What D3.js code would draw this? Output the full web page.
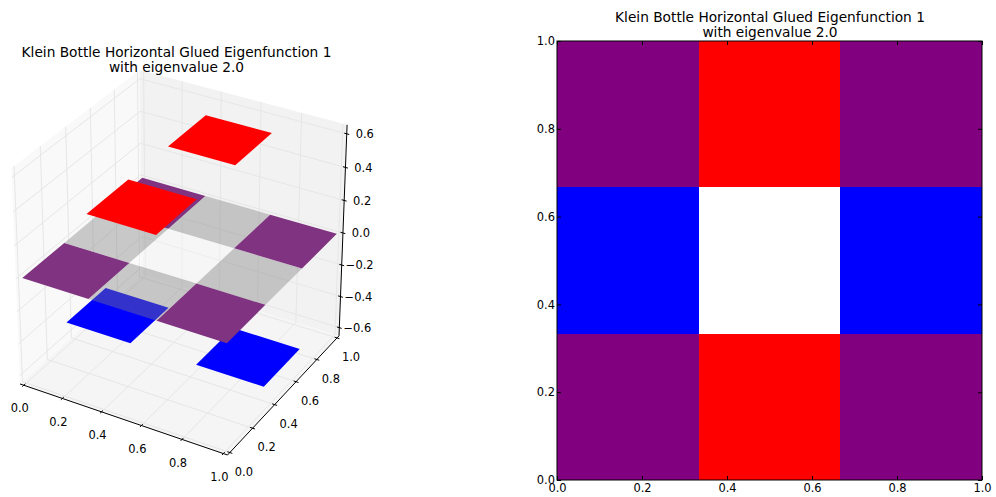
<!DOCTYPE html>
<html><head><meta charset="utf-8">
<script src="https://cdn.jsdelivr.net/npm/d3@7"></script>
<style>html,body{margin:0;padding:0;background:#fff}svg{display:block}
text{font-family:"DejaVu Sans";fill:#000}</style></head><body>
<svg id="c" width="996" height="497"></svg>
<script>
const titleLines = ["Klein Bottle Horizontal Glued Eigenfunction 1", "with eigenvalue 2.0"];
const cellEdges = [0, 1/3, 2/3, 1];
const xTicks = [0, 0.2, 0.4, 0.6, 0.8, 1.0];
const yTicks = [0, 0.2, 0.4, 0.6, 0.8, 1.0];
const zTicks = [-0.6, -0.4, -0.2, 0, 0.2, 0.4, 0.6];
// rows are y cells (bottom to top), columns are x cells
const surfaceZ = [[0, 0.5, 0], [-0.5, 0, -0.5], [0, 0.5, 0]];
const heatColors = [["#800080", "#ff0000", "#800080"], ["#0000ff", "#ffffff", "#0000ff"], ["#800080", "#ff0000", "#800080"]];
const zeroLayerColors = [["#803380", "rgba(128,128,128,0.4)", "#803380"], ["rgba(128,128,128,0.4)", "rgba(255,255,255,0.3)", "rgba(128,128,128,0.4)"], ["#803380", "rgba(128,128,128,0.4)", "#803380"]];
const fmt = d3.format(".1f");
const lab = v => fmt(v).replace("-", "\u2212");
const svg = d3.select("#c");

// ---------- 3D panel (matplotlib mplot3d projection, elev 30, azim -60, dist 10)
const zLim = [-0.64, 0.64], pad = 0.02, zPad = 0.013;
const box = {x0:-pad, x1:1+pad, y0:-pad, y1:1+pad, z0:zLim[0]-zPad, z1:zLim[1]+zPad};
const el = 30*Math.PI/180, az = -60*Math.PI/180, dist = 10;
const nv = [Math.cos(el)*Math.cos(az), Math.cos(el)*Math.sin(az), Math.sin(el)];
const cross=(a,b)=>[a[1]*b[2]-a[2]*b[1],a[2]*b[0]-a[0]*b[2],a[0]*b[1]-a[1]*b[0]];
const nrm=a=>{const l=Math.hypot(...a);return a.map(d=>d/l)};
const dot=(a,b)=>a[0]*b[0]+a[1]*b[1]+a[2]*b[2];
const uv = nrm(cross([0,0,1],nv)), vv = cross(nv,uv);
const zNorm = d3.scaleLinear().domain(zLim).range([0,1]);
function rawProj(x,y,z){
  const p=[x-.5,y-.5,zNorm(z)-.5], w=dist-dot(nv,p);
  return [dot(uv,p)/w, dot(vv,p)/w];
}
const sx = d3.scaleLinear()
  .domain([rawProj(box.x0,box.y0,box.z0)[0], rawProj(box.x1,box.y1,box.z0)[0]]).range([20,339]);
const sy = d3.scaleLinear()
  .domain([rawProj(box.x0,box.y1,box.z1)[1], rawProj(box.x1,box.y0,box.z0)[1]]).range([70,455]);
const P = (x,y,z)=>{const r=rawProj(x,y,z);return [sx(r[0]),sy(r[1])]};
const g3 = svg.append("g");
const line3 = d3.line();
const poly = (pts,fill)=>g3.append("path").attr("d",line3(pts.map(p=>P(...p)))+"Z").attr("fill",fill).attr("stroke","none");
const seg = (a,b,col,w)=>g3.append("path").attr("d",line3([P(...a),P(...b)])).attr("stroke",col).attr("stroke-width",w).attr("fill","none");
const {x0,x1,y0,y1,z0,z1}=box;
poly([[x0,y0,z0],[x0,y1,z0],[x0,y1,z1],[x0,y0,z1]],"#f9f9f9");
poly([[x0,y1,z0],[x1,y1,z0],[x1,y1,z1],[x0,y1,z1]],"#f2f2f2");
poly([[x0,y0,z0],[x1,y0,z0],[x1,y1,z0],[x0,y1,z0]],"#f5f5f5");
const gridCol="#e6e6e6";
xTicks.forEach(t=>{seg([t,y0,z0],[t,y1,z0],gridCol,1);seg([t,y1,z0],[t,y1,z1],gridCol,1)});
yTicks.forEach(t=>{seg([x1,t,z0],[x0,t,z0],gridCol,1);seg([x0,t,z0],[x0,t,z1],gridCol,1)});
zTicks.forEach(t=>{seg([x0,y0,t],[x0,y1,t],gridCol,1);seg([x0,y1,t],[x1,y1,t],gridCol,1)});
const cell=(i,j,z,fill)=>poly([[cellEdges[i],cellEdges[j],z],[cellEdges[i+1],cellEdges[j],z],[cellEdges[i+1],cellEdges[j+1],z],[cellEdges[i],cellEdges[j+1],z]],fill);
const idx=[0,1,2];
idx.forEach(j=>idx.forEach(i=>{if(surfaceZ[j][i]<0)cell(i,j,surfaceZ[j][i],heatColors[j][i])}));
idx.forEach(j=>idx.forEach(i=>cell(i,j,0,zeroLayerColors[j][i])));
[2,1,0].forEach(j=>idx.forEach(i=>{if(surfaceZ[j][i]>0)cell(i,j,surfaceZ[j][i],heatColors[j][i])}));
// axes lines
seg([x0,y0,z0],[x1,y0,z0],"#000",1);
seg([x1,y0,z0],[x1,y1,z0],"#000",1);
seg([x1,y1,z0],[x1,y1,z1],"#000",1);
const text3=(p,dx,dy,s)=>g3.append("text").attr("x",p[0]+dx).attr("y",p[1]+dy).attr("text-anchor","middle").attr("dy","0.36em").attr("font-size",11.44).text(s);
xTicks.forEach(t=>{seg([t,y0-.012,z0],[t,y0+.012,z0],"#000",1);text3(P(t,y0,z0),-4,23,lab(t))});
yTicks.forEach(t=>{seg([x1-.012,t,z0],[x1+.012,t,z0],"#000",1);text3(P(x1,t,z0),14,19,lab(t))});
zTicks.forEach(t=>{seg([x1-.012,y1,t],[x1+.012,y1,t],"#000",1);text3(P(x1,y1,t),18,0,lab(t))});
const title=(g,cx,y)=>titleLines.forEach((s,i)=>g.append("text").attr("x",cx).attr("y",y+i*15).attr("text-anchor","middle").attr("font-size",13.73).text(s));
title(svg,176.5,57);

// ---------- Heat map panel
const px = d3.scaleLinear().domain([0,1]).range([557,982]);
const py = d3.scaleLinear().domain([0,1]).range([480,41]);
const g2 = svg.append("g");
idx.forEach(j=>idx.forEach(i=>{
  g2.append("rect").attr("x",px(cellEdges[i])).attr("y",py(cellEdges[j+1]))
    .attr("width",px(cellEdges[i+1])-px(cellEdges[i])).attr("height",py(cellEdges[j])-py(cellEdges[j+1]))
    .attr("fill",heatColors[j][i]).attr("shape-rendering","crispEdges");
}));
const ticks2=[0,.2,.4,.6,.8,1];
const styleAxis=a=>{a.selectAll(".domain").remove();a.selectAll("line").attr("stroke","#000");
  a.selectAll("text").attr("font-size",11.44).attr("font-family","DejaVu Sans").attr("fill","#000")};
svg.append("g").attr("transform","translate(0,480)").call(d3.axisBottom(px).tickValues(ticks2).tickFormat(fmt).tickSize(-4).tickPadding(4)).call(styleAxis);
svg.append("g").attr("transform","translate(0,41)").call(d3.axisTop(px).tickValues(ticks2).tickFormat("").tickSize(-4)).call(styleAxis);
svg.append("g").attr("transform","translate(557,0)").call(d3.axisLeft(py).tickValues(ticks2).tickFormat(fmt).tickSize(-4).tickPadding(2)).call(styleAxis);
svg.append("g").attr("transform","translate(982,0)").call(d3.axisRight(py).tickValues(ticks2).tickFormat("").tickSize(-4)).call(styleAxis);
svg.append("rect").attr("x",557).attr("y",41).attr("width",425).attr("height",439).attr("fill","none").attr("stroke","#000").attr("stroke-width",1);
title(svg,770,22);
</script></body></html>
